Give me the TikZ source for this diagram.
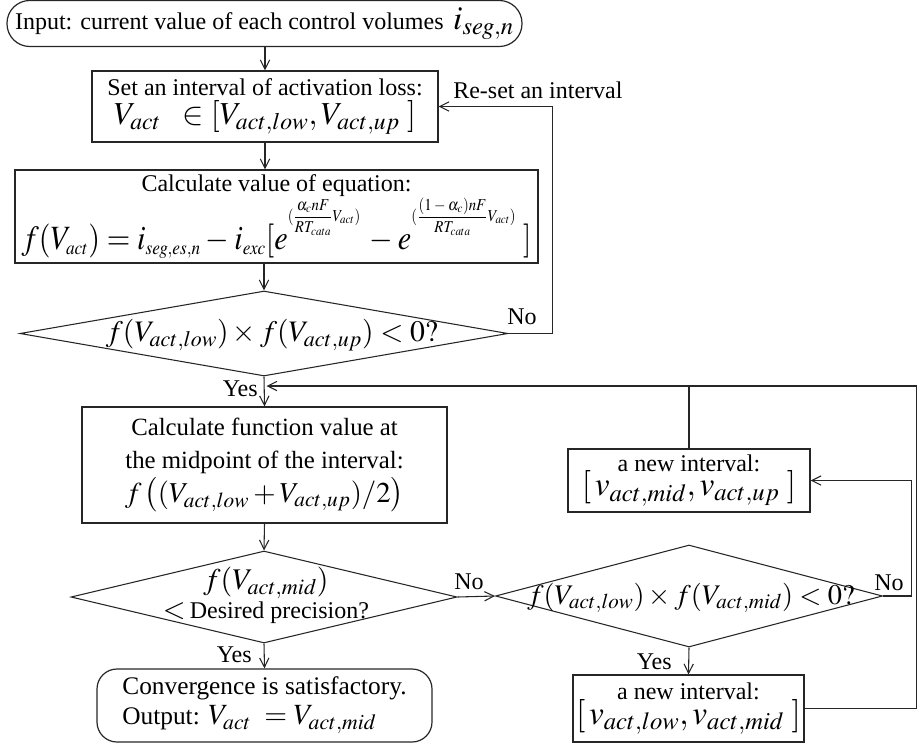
\documentclass[tikz,border=0pt]{standalone}
\usepackage{mathptmx}
\usepackage{fontspec}
\setmainfont{Liberation Serif}
\usetikzlibrary{shapes.geometric,arrows.meta,calc}

\DeclareMathSizes{25.5}{25.5}{14.5}{10}
\newcommand\mth[2][25]{{\fontsize{#1}{#1}\selectfont$#2$}}
\newcommand\expo[1]{\raisebox{12pt}{\mbox{\fontsize{12.5}{13}\selectfont$\displaystyle(#1)$}}}

\begin{document}
\begin{tikzpicture}[x=0.75pt,y=-0.75pt,
  every node/.style={font=\fontsize{18}{21}\selectfont, inner sep=0pt},
  box/.style={draw=black!85, line width=0.9pt, rectangle, align=center},
  rbox/.style={box, rounded corners=15pt},
  dia/.style={draw=black!85, line width=0.8pt, diamond, inner sep=0pt},
  conn/.style={draw=black!85, line width=0.8pt},
  arr/.style={conn, -{Straight Barb[length=7pt,width=7pt]}},
  lbl/.style={font=\fontsize{18}{21}\selectfont},
]
\useasboundingbox (0,0) rectangle (917,746);

% nodes
\node[rbox, rounded corners=17pt, minimum width=386.25pt, minimum height=34.5pt] (input) at (264.5,23.5)
  {Input: current value of each control volumes \mth{\,i_{seg,n}}};

\node[box, minimum width=259.5pt, minimum height=53.25pt] (setbox) at (265,106.5)
  {Set an interval of activation loss:\\[1pt]
   \mth[24]{V_{act}\;\;\in[V_{act,low},V_{act,up}\;]}};

\node[box, minimum width=392.25pt, minimum height=69.75pt] (calc) at (276.5,216.5)
  {Calculate value of equation:\\
   \scalebox{0.89}[1]{\mth[25.5]{\medmuskip=3mu\thickmuskip=4mu f(V_{act})=i_{seg,es,n}-i_{exc}[e^{\expo{\frac{\alpha_c nF}{RT_{cata}}V_{act}}}\,-e^{\expo{\frac{(1-\alpha_c)nF}{RT_{cata}}V_{act}}}\;]}}};

\node[dia, minimum width=366pt, minimum height=63.75pt] (d1) at (264,333.5) {};
\node (d1t) at (272,335) {\mth[22.3]{f(V_{act,low})\times f(V_{act,up})<0?}};

\node[box, minimum width=273.75pt, minimum height=87pt, font=\fontsize{18.6}{21}\selectfont] (calcf) at (264.5,465)
  {Calculate function value at\\[4pt]
   the midpoint of the interval:\\[2pt]
   \mth[21.6]{f\left((V_{act,low}+V_{act,up})/2\right)}};

\node[dia, minimum width=289.5pt, minimum height=69pt] (d2) at (264,597) {};
\node[align=center] (d2t) at (266,595)
  {\mth[22.5]{f(V_{act,mid})}\\[1pt] {\fontsize{22}{22}\selectfont$<$}\,Desired precision?};

\node[rbox, minimum width=251.25pt, minimum height=54.75pt, align=left, font=\fontsize{19}{21}\selectfont] (output) at (264.5,705.5)
  {Convergence is satisfactory.\\[1.5pt]
   Output: \mth[22]{V_{act}\;=V_{act,mid}}};

\node[dia, minimum width=290.25pt, minimum height=76.5pt] (d3) at (689,596) {};
\node (d3t) at (691,598) {\mth[21.3]{f(V_{act,low})\times f(V_{act,mid})<0?}};

\node[box, minimum width=181.5pt, minimum height=47.25pt] (bup) at (689,480.5)
  {a new interval:\\[-3pt]
   \mth{[\,v_{act,mid},v_{act,up}\;]}};

\node[box, minimum width=173.25pt, minimum height=50.25pt] (blow) at (688.5,708.5)
  {a new interval:\\[-2pt]
   \mth{[\,v_{act,low},v_{act,mid}\;]}};

% labels
\node[lbl, anchor=west] (reset) at (453,90) {Re-set an interval};
\node[lbl] (no1) at (522,317) {No};
\node[lbl, anchor=east] (yes1) at (258,389) {Yes};
\node[lbl] (no2) at (469,582) {No};
\node[lbl, anchor=east] (yes2) at (252,655) {Yes};
\node[lbl] (no3) at (889,583) {No};
\node[lbl, anchor=east] (yes3) at (672,662) {Yes};

% connectors
\draw[arr] (input.south -| setbox.north) -- (setbox.north);
\draw[arr] (setbox.south) -- (setbox.south |- calc.north);
\draw[arr] (calc.south -| d1.north) -- (d1.north);
\draw[arr] (d1.east) -- ++(44,0) |- (setbox.east);
\draw[arr] (d1.south) -- (calcf.north);
\draw[arr] (calcf.south) -- (d2.north);
\draw[arr] (d2.south) -- (output.north);
\draw[arr] (d2.east) -- (d3.west);
\draw[arr] (d3.east) -- ++(28,0) |- (bup.east);
\draw[arr] (d3.south) -- (blow.north);
\coordinate (join) at (266.5,386);
\draw[arr] (blow.east) -- ++(112,0) |- (join);
\draw[conn] (bup.north) -- (bup.north |- join);
\end{tikzpicture}
\end{document}
